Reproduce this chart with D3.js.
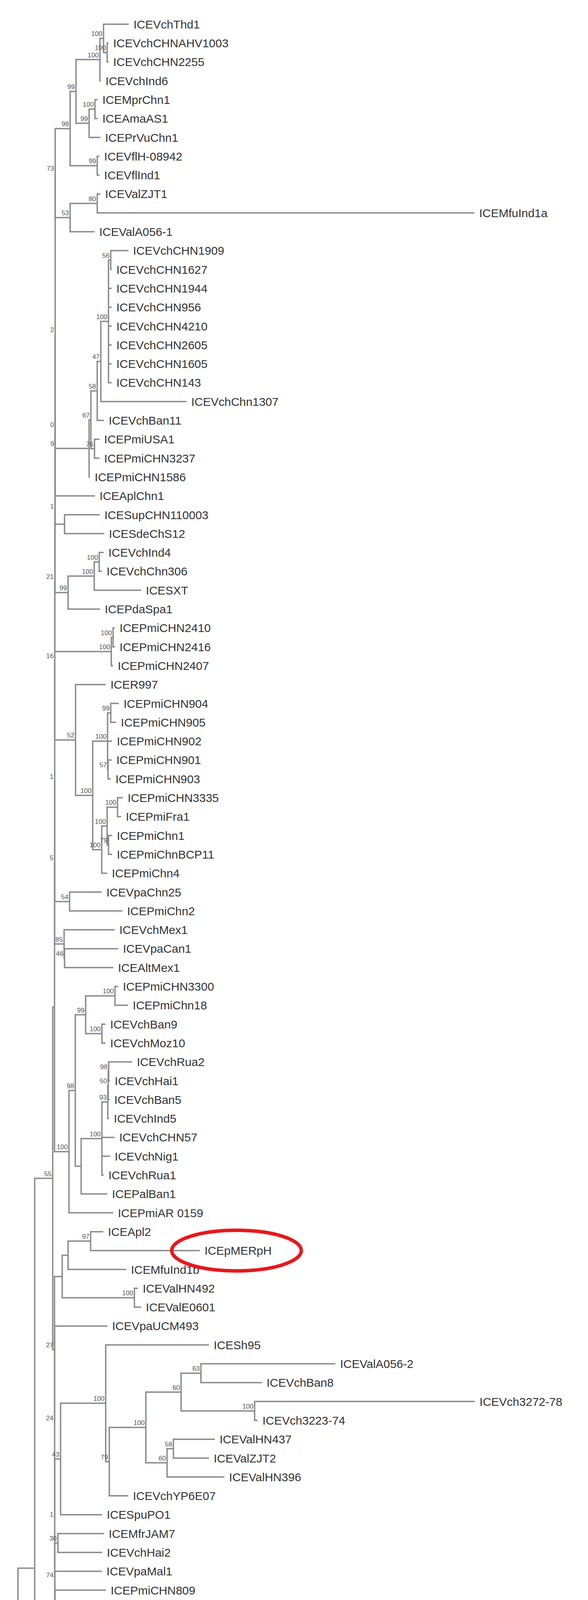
<!DOCTYPE html>
<html>
<head>
<meta charset="utf-8">
<script src="https://cdn.jsdelivr.net/npm/d3@7"></script>
<style>
  body { margin: 0; background: white; }
  text { font-family: "Liberation Sans", Arial, sans-serif; }
</style>
</head>
<body>
<svg id="tree" width="1505" height="5407"></svg>
<script>
// Clades hanging off the upper part of the backbone (Newick, branch lengths in subst./site)
const upperClades = [
  "((((ICEVchThd1:0.0056,(ICEVchCHNAHV1003:0.0003,ICEVchCHN2255:0.0003)100:0.0008)100:0.0008,ICEVchInd6:0.0002)100:0.0053,((ICEMprChn1:0.0006,ICEAmaAS1:0.0006)100:0.0013,ICEPrVuChn1:0.0025)99:0.0029)99:0.0013,(ICEVflH-08942:0.0005,ICEVflInd1:0.0005)99:0.006)98:0.0033",
  "((ICEValZJT1:0.0007,ICEMfuInd1a:0.0836)80:0.006,ICEValA056-1:0.0054)53:0.0033",
  "(((((((ICEVchCHN1909:0.0039,ICEVchCHN1627:0.0002)56:0.0005,ICEVchCHN1944:0.0007,ICEVchCHN956:0.0007,ICEVchCHN4210:0.0007,ICEVchCHN2605:0.0007,ICEVchCHN1605:0.0007,ICEVchCHN143:0.0007)100:0.0017,ICEVchChn1307:0.019)47:0.0008,ICEVchBan11:0.0015)58:0.0014,(ICEPmiUSA1:0.0011,ICEPmiCHN3237:0.0011)76:0.0008)67:0.0004,ICEPmiCHN1586:0.0002):0.0075",
  "ICEAplChn1:0.0088",
  "(ICESupCHN110003:0.0078,ICESdeChS12:0.0088):0.0021",
  "(((ICEVchInd4:0.001,ICEVchChn306:0.0006)100:0.0011,ICESXT:0.0104)100:0.0058,ICEPdaSpa1:0.0071)99:0.0029",
  "((ICEPmiCHN2410:0.0004,ICEPmiCHN2416:0.0004)100:0.0004,ICEPmiCHN2407:0.0004)100:0.0125",
  "(ICER997:0.0067,(((ICEPmiCHN904:0.0018,ICEPmiCHN905:0.0012)99:0.0007,ICEPmiCHN902:0.001,(ICEPmiCHN901:0.0008,ICEPmiCHN903:0.0006)57:0.0001)100:0.0033,(((ICEPmiCHN3335:0.0012,ICEPmiFra1:0.0008)100:0.0023,(ICEPmiChn1:0.0008,ICEPmiChnBCP11:0.0008)79:0.0003)100:0.0012,ICEPmiChn4:0.0012)100:0.002)100:0.0038)52:0.0046",
  "(ICEVpaChn25:0.0071,ICEPmiChn2:0.0117)54:0.0033",
  "(ICEVchMex1:0.0112,(ICEVpaCan1:0.0119,ICEAltMex1:0.0108)46:0.0001)85:0.0021",
  "((((ICEPmiCHN3300:0.0007,ICEPmiChn18:0.0029)100:0.0065,(ICEVchBan9:0.0008,ICEVchMoz10:0.0008)100:0.0036)99:0.0023,(((((ICEVchRua2:0.0052,ICEVchHai1:0.0003)98:0.0001,ICEVchBan5:0.0003)50:0.0001,ICEVchInd5:0.0003)93:0.0013,ICEVchCHN57:0.0028,ICEVchNig1:0.0018,ICEVchRua1:0.0004)100:0.0046,ICEPalBan1:0.0058):0.0013)98:0.0014,ICEPmiAR 0159:0.0098)100:0.0032"
]
const upperSupport = ['73', '9', '2', '0', '1', '21', '16', '1', '5', '']

// Clades hanging off the lower part of the backbone
const lowerClades = [
  "(((ICEApl2:0.0028,ICEpMERpH:0.0242)97:0.005,ICEMfuInd1b:0.0129):0.0013,(ICEValHN492:0.0008,ICEValE0601:0.0015)100:0.016):0.0017",
  "ICEVpaUCM493:0.0117",
  "((ICESh95:0.0229,((((ICEValA056-2:0.0298,ICEVchBan8:0.0135)63:0.0044,(ICEVch3272-78:0.0488,ICEVch3223-74:0.0007)100:0.0163)60:0.0078,((ICEValHN437:0.0092,ICEValZJT2:0.0079)58:0.0014,ICEValHN396:0.0127)60:0.0047)100:0.0081,ICEVchYP6E07:0.0042)79:0.0008)100:0.01,ICESpuPO1:0.0092)43:0.0013",
  "(ICEMfrJAM7:0.0102,ICEVchHai2:0.0098)30:0.0007",
  "ICEVpaMal1:0.0104",
  "ICEPmiCHN809:0.0113",
  "(ICEEcoHVH177:0.0089,(ICEPst336672:0.0188,(ICER391:0.0086,ICEPmiJpn1:0.0079)100:0.0038)68:0.0018)67:0.0023",
  "(ICEVpaMal3:0.0018,(ICEVpaMal5:0.0006,ICEVpaMal6:0.0006,ICEVpaMal11:0.0006,ICEVpaMal10:0.0006,ICEVpaMal9:0.0006,ICEVpaMal8:0.0006,ICEVpaMal7:0.0006,ICEVpaMal4:0.0006,ICEVpaMal2:0.0006,ICEVpaVie01:0.0006,ICEVpaThd2:0.0006,ICEVpaThd1:0.0006)100:0.0008)100:0.0093",
  "ICEElbaHL53:0.0113"
]
const lowerSupport = ['27', '24', '1', '74', '1', '15', '7', '14']

const backboneStep = 0.00002
const scaleBarValue = 0.02
const highlighted = 'ICEpMERpH'

// upper backbone grows downward: each node joins everything above with the next clade
const ladderDown = (items, sup) => {
  let s = items[0]
  for (let i = 1; i < items.length; i++) {
    s = `(${s},${items[i]})${sup[i - 1]}:${backboneStep}`
  }
  return s.replace(/:[0-9.]+$/, '')
}
// lower backbone grows upward: each node joins a clade with everything below
const ladderUp = (items, sup) => {
  let s = items[items.length - 1]
  for (let i = items.length - 2; i >= 0; i--) {
    s = `(${items[i]},${s})${sup[i]}:${backboneStep}`
  }
  return s.replace(/:[0-9.]+$/, '')
}

const backbone = `(${ladderDown(upperClades, upperSupport)}:0.0004,${ladderUp(lowerClades, lowerSupport)}:0.0004)55`
const newick = `((${backbone}:0.004,(ICEAspBS1:0.0038,ICEAmaD7:0.0017)56:0.0065):0.0037,((ICEPmiChn3:0.0007,(ICEVflBra1:0.0008,ICEVflBra2:0.0617)85:0.0258)100:0.0097,ICEAmaIS1:0.0263)55:0.0047);`

// small Newick parser
const parseNewick = (str) => {
  let i = 0
  const readNode = () => {
    const node = { children: [] }
    if (str[i] === '(') {
      i++
      node.children.push(readNode())
      while (str[i] === ',') { i++; node.children.push(readNode()) }
      i++ // ')'
    }
    let name = ''
    while (i < str.length && !':,);'.includes(str[i])) name += str[i++]
    node.name = name
    node.len = 0
    if (str[i] === ':') {
      i++
      let num = ''
      while (i < str.length && !',);'.includes(str[i])) num += str[i++]
      node.len = +num
    }
    if (!node.children.length) delete node.children
    return node
  }
  return readNode()
}

const root = d3.hierarchy(parseNewick(newick))
root.each(d => { d.dist = d.parent ? d.parent.dist + d.data.len : 0 })
const leaves = root.leaves()

const svg = d3.select('#tree')
svg.append('rect').attr('width', 1505).attr('height', 5407).attr('fill', 'white')

const xScale = d3.scaleLinear().domain([0, scaleBarValue]).range([46, 277])
const yScale = d3.scalePoint()
  .domain(leaves.map(d => d.data.name))
  .range([62, 5230])

leaves.forEach(d => { d.y = yScale(d.data.name) })
root.eachAfter(d => {
  d.x = xScale(d.dist)
  if (d.children) d.y = (d.children[0].y + d.children[d.children.length - 1].y) / 2
})

const g = svg.append('g')
const lineColor = '#8a8a8a'

// horizontal branches
g.selectAll('line.h').data(root.descendants().filter(d => d.parent))
  .enter().append('line')
    .attr('x1', d => d.parent.x).attr('x2', d => d.x)
    .attr('y1', d => d.y).attr('y2', d => d.y)
    .attr('stroke', lineColor).attr('stroke-width', 3.5)

// vertical connectors
g.selectAll('line.v').data(root.descendants().filter(d => d.children))
  .enter().append('line')
    .attr('x1', d => d.x).attr('x2', d => d.x)
    .attr('y1', d => d.children[0].y - 1.75)
    .attr('y2', d => d.children[d.children.length - 1].y + 1.75)
    .attr('stroke', lineColor).attr('stroke-width', 3.5)

// support values
g.selectAll('text.sup').data(root.descendants().filter(d => d.children && d.data.name))
  .enter().append('text')
    .attr('x', d => d.x - 3).attr('y', d => d.y - 6)
    .attr('text-anchor', 'end')
    .attr('font-size', 17)
    .attr('fill', '#555')
    .text(d => d.data.name)

// leaf labels
const labels = g.selectAll('text.leaf').data(leaves)
  .enter().append('text')
    .attr('x', d => d.x + 12).attr('y', d => d.y)
    .attr('dy', '0.36em')
    .attr('font-size', 30)
    .attr('fill', '#333')
    .text(d => d.data.name)

// red ring around the highlighted ICE
labels.filter(d => d.data.name === highlighted).each(function (d) {
  const b = this.getBBox()
  g.append('ellipse')
    .attr('cx', b.x + b.width / 2 - 4)
    .attr('cy', d.y)
    .attr('rx', b.width / 2 + 80)
    .attr('ry', 52)
    .attr('fill', 'none')
    .attr('stroke', '#e8181c')
    .attr('stroke-width', 9)
})

// scale bar
const barY = 5308
const bar = svg.append('g').attr('transform', `translate(${xScale(0) + 42}, ${barY})`)
const barLen = xScale(scaleBarValue) - xScale(0)
bar.append('line').attr('x1', 0).attr('x2', barLen).attr('stroke', lineColor).attr('stroke-width', 3.5)
bar.append('line').attr('x1', 0).attr('x2', 0).attr('y1', -8).attr('y2', 8).attr('stroke', lineColor).attr('stroke-width', 3)
bar.append('line').attr('x1', barLen).attr('x2', barLen).attr('y1', -8).attr('y2', 8).attr('stroke', lineColor).attr('stroke-width', 3)
bar.append('text')
  .attr('x', barLen / 2).attr('y', 58)
  .attr('text-anchor', 'middle')
  .attr('font-size', 20)
  .attr('fill', '#555')
  .text(d3.format('.3f')(scaleBarValue))
</script>
</body>
</html>
